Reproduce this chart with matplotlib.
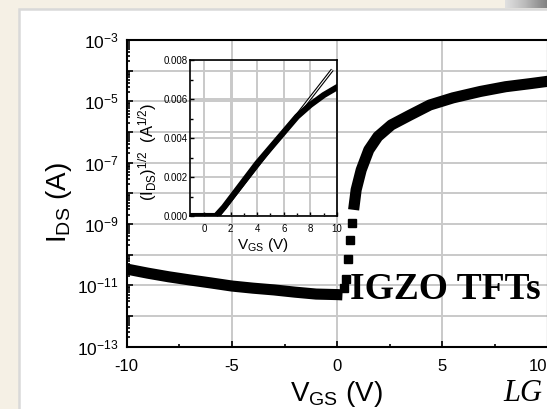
import numpy as np
import matplotlib.pyplot as plt
import matplotlib.ticker as mticker
from matplotlib.patches import Rectangle

plt.rcParams['font.family'] = ['Liberation Sans', 'DejaVu Sans']
plt.rcParams['mathtext.default'] = 'regular'
plt.rcParams['axes.unicode_minus'] = False

# transfer curve (log scale)
# off state
v_off = [-10, -9, -8, -7, -6, -5, -4, -3, -2, -1, 0, 0.25]
i_off = [3.4e-11, 2.5e-11, 1.9e-11, 1.5e-11, 1.2e-11, 9.5e-12, 8.1e-12,
         7.1e-12, 6.0e-12, 5.2e-12, 5.0e-12, 4.9e-12]
# sub-threshold points (separate squares)
v_sub = [0.3, 0.4, 0.5, 0.6, 0.68]
i_sub = [7.9e-12, 1.6e-11, 7.1e-11, 3.0e-10, 1.05e-9]
# on state
v_on = [0.78, 0.9, 1.14, 1.5, 1.93, 2.57, 3.44, 4.4, 5.5, 6.8, 8.0, 9.2, 10.0]
i_on = [2.9e-9, 1.3e-8, 5.8e-8, 2.6e-7, 7.1e-7, 1.7e-6, 3.5e-6, 7.6e-6,
        1.3e-5, 2.1e-5, 3.0e-5, 3.8e-5, 4.5e-5]

# inset: sqrt(I_DS) vs V_GS
v_sq = [-1.05, 0.9, 1.5, 2, 3, 4, 5, 6, 7, 8, 9, 10]
sqrt_i = [0, 0, 0.00045, 0.0009, 0.0018, 0.0027, 0.0035, 0.0043, 0.0051,
          0.0057, 0.0062, 0.0066]
fit_v = [1.1, 9.65]
fit_y = [0.0, 0.0075]

W, H = 547, 409
fig = plt.figure(figsize=(W / 100, H / 100), dpi=100)
fig.patch.set_facecolor('#F5F0E5')

# white slide panel (behind the axes)
fig.patches.append(Rectangle((19 / W, -0.05), 1.2, 1 - 9 / H + 0.05,
                             transform=fig.transFigure, facecolor='white',
                             edgecolor='#D9D9D9', lw=1.8, zorder=-5))
# grey corner top right
ax_bg = fig.add_axes([505 / W, 1 - 8 / H, 42 / W, 8 / H])
ax_bg.imshow(np.linspace(0, 1, 50)[None, :], cmap='Greys', vmin=-0.6, vmax=2.2,
             aspect='auto', extent=(0, 1, 0, 1))
ax_bg.axis('off')

grid_col = '#C9C9C9'

# main axes
ax = fig.add_axes([126.7 / W, 1 - 346.7 / H, 421 / W, 306.7 / H])
ax.set_facecolor('none')
ax.plot(v_off, i_off, color='black', lw=8, solid_capstyle='butt', zorder=3)
ax.plot(v_sub, i_sub, 's', color='black', ms=6.3, zorder=3)
ax.plot(v_on, i_on, color='black', lw=8, solid_capstyle='butt', zorder=3)

ax.set_yscale('log')
ax.set_ylim(1e-13, 1e-3)
ax.set_xlim(-10, 10)
ax.yaxis.set_major_locator(mticker.LogLocator(base=10, numticks=15))
ax.yaxis.set_minor_locator(mticker.LogLocator(base=10, subs=np.arange(2, 10), numticks=15))
ax.yaxis.set_minor_formatter(mticker.NullFormatter())


def ylab(y, _):
    e = int(round(np.log10(y)))
    return '$10^{%d}$' % e if e % 2 else ''


ax.yaxis.set_major_formatter(mticker.FuncFormatter(ylab))
ax.xaxis.set_major_locator(mticker.MultipleLocator(5))
ax.xaxis.set_minor_locator(mticker.MultipleLocator(2.5))
ax.tick_params(which='both', direction='in', top=False, right=False, width=1.2)
ax.tick_params(which='major', length=4)
ax.tick_params(which='minor', length=2.5)
ax.tick_params(axis='x', labelsize=12, pad=9)
ax.tick_params(axis='y', labelsize=12.5, pad=6)
for s in ax.spines.values():
    s.set_linewidth(1.5)
ax.grid(True, which='major', color=grid_col, lw=1.4)
ax.set_axisbelow(True)

# keep the last x label ("10") inside the picture
fig.canvas.draw()
xlabels = ax.get_xticklabels()
for lab, loc in zip(xlabels, ax.get_xticks()):
    if loc >= 10:
        lab.set_horizontalalignment('right')

fig.text(336 / W, 1 - 379 / H, '$V_{GS}$ (V)', fontsize=20, ha='center', va='top')
fig.text(59 / W, 1 - 203 / H, '$I_{DS}$ (A)', fontsize=20, rotation=90,
         ha='center', va='center')

fig.text(350 / W, 1 - 299 / H, 'IGZO TFTs', family='Liberation Serif',
         weight='bold', fontsize=27, va='baseline')
fig.text(503 / W, 1 - 408 / H, 'LG', family='Liberation Serif', style='italic',
         fontsize=22, va='bottom')

# inset
ax_in = fig.add_axes([190 / W, 1 - 216 / H, 147 / W, 156 / H])
ax_in.set_facecolor('none')
ax_in.plot(fit_v, fit_y, color='black', lw=2.4, zorder=2, solid_capstyle='butt')
ax_in.plot(fit_v, fit_y, color='white', lw=0.8, zorder=2.1, solid_capstyle='butt')
ax_in.plot(v_sq, sqrt_i, color='black', lw=4.4, zorder=3)
ax_in.set_xlim(-1.05, 10)
ax_in.set_ylim(0, 0.008)
ax_in.xaxis.set_major_locator(mticker.MultipleLocator(2))
ax_in.xaxis.set_minor_locator(mticker.MultipleLocator(1))
ax_in.yaxis.set_major_locator(mticker.MultipleLocator(0.002))
ax_in.yaxis.set_minor_locator(mticker.MultipleLocator(0.001))
ax_in.yaxis.set_major_formatter(mticker.FormatStrFormatter('%.3f'))
ax_in.tick_params(which='both', direction='in', top=False, right=False,
                  width=1.0, labelsize=7)
ax_in.tick_params(which='major', length=3)
ax_in.tick_params(which='minor', length=2)
ax_in.tick_params(axis='x', pad=6)
ax_in.tick_params(axis='y', pad=1.5)
for s in ax_in.spines.values():
    s.set_linewidth(1.2)
ax_in.grid(True, which='major', color=grid_col, lw=1.4)
ax_in.set_axisbelow(True)

fig.text(263 / W, 1 - 236 / H, '$V_{GS}$ (V)', fontsize=11, ha='center', va='top')
fig.text(148 / W, 1 - 152 / H, '$(I_{DS})^{1/2}$  $(A^{1/2})$', fontsize=12,
         rotation=90, ha='center', va='center')

fig.savefig('out.png', dpi=100)
